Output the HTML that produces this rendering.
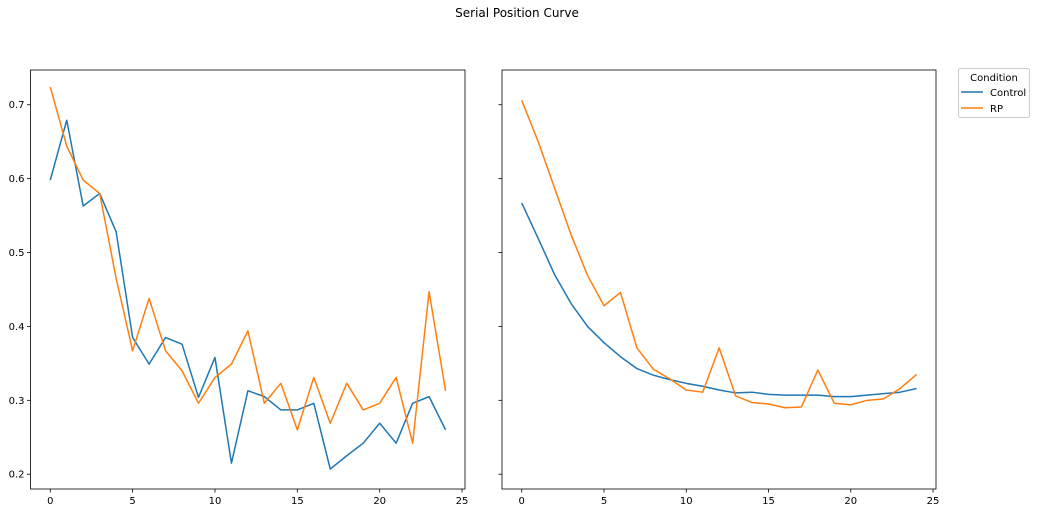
<!DOCTYPE html>
<html><head><meta charset="utf-8"><style>
body{margin:0;background:#fff;}
svg text{font-family:"DejaVu Sans","Liberation Sans",sans-serif;fill:#000;}
</style></head><body>
<svg id="chart" width="1037" height="513" xmlns="http://www.w3.org/2000/svg">
<text x="517" y="17" text-anchor="middle" font-size="12">Serial Position Curve</text>
<g id="plots"></g>
<g>
<rect x="958.5" y="68.5" width="71" height="49" rx="2" fill="#fff" stroke="#ccc"/>
<text x="994" y="81" text-anchor="middle" font-size="10">Condition</text>
<line x1="961" y1="92" x2="983" y2="92" stroke="#1f77b4" stroke-width="1.5"/>
<text x="990" y="96" font-size="10">Control</text>
<line x1="961" y1="108" x2="983" y2="108" stroke="#ff7f0e" stroke-width="1.5"/>
<text x="990" y="112" font-size="10">RP</text>
</g>
</svg>
<script>
const positions = [0,1,2,3,4,5,6,7,8,9,10,11,12,13,14,15,16,17,18,19,20,21,22,23,24];
const leftControl = [0.598,0.679,0.563,0.580,0.528,0.385,0.349,0.385,0.376,0.304,0.358,0.215,0.313,0.305,0.287,0.287,0.296,0.207,0.225,0.242,0.269,0.242,0.296,0.305,0.260];
const leftRP = [0.724,0.644,0.598,0.580,0.465,0.367,0.438,0.367,0.340,0.296,0.331,0.349,0.394,0.296,0.323,0.260,0.331,0.269,0.323,0.287,0.296,0.331,0.242,0.447,0.313];
const rightControl = [0.567,0.519,0.470,0.431,0.400,0.378,0.359,0.343,0.334,0.328,0.323,0.319,0.314,0.310,0.311,0.308,0.307,0.307,0.307,0.305,0.305,0.307,0.309,0.311,0.316];
const rightRP = [0.706,0.650,0.587,0.524,0.469,0.428,0.446,0.371,0.342,0.329,0.314,0.311,0.371,0.306,0.297,0.295,0.290,0.291,0.341,0.296,0.294,0.300,0.302,0.316,0.335];
const xTicks = [0,5,10,15,20,25];
const yTicks = [0.2,0.3,0.4,0.5,0.6,0.7];
const yTickLabels = ["0.2","0.3","0.4","0.5","0.6","0.7"];

const NS="http://www.w3.org/2000/svg";
const plotsG=document.getElementById('plots');
function mk(tag,attrs,parent){const e=document.createElementNS(NS,tag);for(const k in attrs)e.setAttribute(k,attrs[k]);parent.appendChild(e);return e;}
const axTop=70,axBottom=489,yMin=0.18,yMax=0.747,xMin=-1.2,xMax=25.18;
function panel(left,right,series,name,showY){
  const xs=v=>left+(v-xMin)/(xMax-xMin)*(right-left);
  const ys=v=>axBottom-(v-yMin)/(yMax-yMin)*(axBottom-axTop);
  const pg=mk('g',{},plotsG);
  
  
  xTicks.forEach(t=>{const x=xs(t);
    const l=mk('line',{x1:x,y1:axBottom,x2:x,y2:axBottom+3.5,stroke:'#000','stroke-width':0.8},pg);
    
    
    const tx=mk('text',{x:x,y:axBottom+15,'text-anchor':'middle','font-size':10},pg);tx.textContent=t;
    
    
  });
  yTicks.forEach((t,i)=>{const y=ys(t);
    const l=mk('line',{x1:left-3.5,y1:y,x2:left,y2:y,stroke:'#000','stroke-width':0.8},pg);
    
    
    if(showY){const tx=mk('text',{x:left-6,y:y+3.5,'text-anchor':'end','font-size':10},pg);tx.textContent=yTickLabels[i];
      
      }
  });
  series.forEach(([vals,color,sname])=>{
    const p=mk('polyline',{points:vals.map((v,i)=>xs(positions[i])+','+ys(v)).join(' '),fill:'none',stroke:color,'stroke-width':1.5,'stroke-linejoin':'round'},pg);
    
    
  });
  const fr=mk('rect',{x:left,y:axTop,width:right-left,height:axBottom-axTop,fill:'none',stroke:'#000','stroke-width':0.8},pg);
  
  
}
panel(30.5,465,[[leftControl,'#1f77b4','control-line'],[leftRP,'#ff7f0e','rp-line']],'left-panel',true);
panel(502,936,[[rightControl,'#1f77b4','control-fit-line'],[rightRP,'#ff7f0e','rp-fit-line']],'right-panel',false);
</script>
</body></html>
